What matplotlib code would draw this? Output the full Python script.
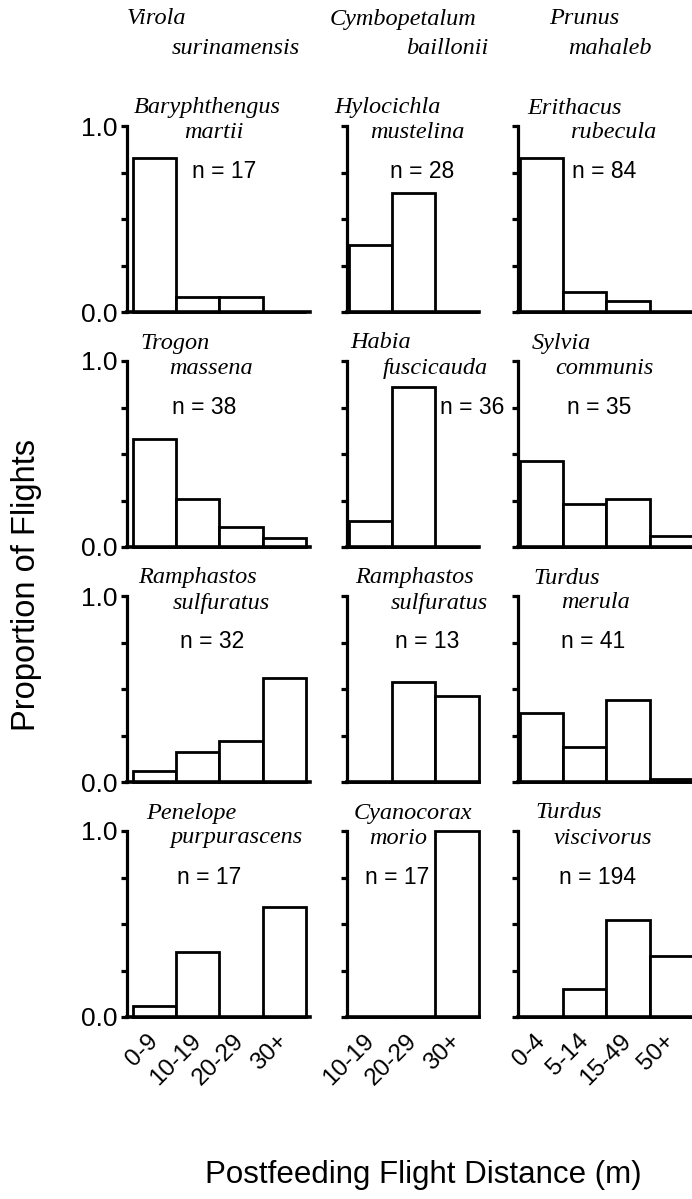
import numpy as np
import matplotlib
matplotlib.use('Agg')
import matplotlib.pyplot as plt
from matplotlib.transforms import ScaledTranslation

# --- data ---
col_bins = [['0-9', '10-19', '20-29', '30+'],
            ['10-19', '20-29', '30+'],
            ['0-4', '5-14', '15-49', '50+']]
plants = [('Virola', 'surinamensis'),
          ('Cymbopetalum', 'baillonii'),
          ('Prunus', 'mahaleb')]
birds = [[('Baryphthengus', 'martii'), ('Trogon', 'massena'),
          ('Ramphastos', 'sulfuratus'), ('Penelope', 'purpurascens')],
         [('Hylocichla', 'mustelina'), ('Habia', 'fuscicauda'),
          ('Ramphastos', 'sulfuratus'), ('Cyanocorax', 'morio')],
         [('Erithacus', 'rubecula'), ('Sylvia', 'communis'),
          ('Turdus', 'merula'), ('Turdus', 'viscivorus')]]
n_obs = [[17, 38, 32, 17],
         [28, 36, 13, 17],
         [84, 35, 41, 194]]
virola_props = [[0.83, 0.08, 0.08, 0.0],
                [0.58, 0.26, 0.11, 0.05],
                [0.06, 0.16, 0.22, 0.56],
                [0.06, 0.35, 0.0, 0.59]]
cymbopetalum_props = [[0.36, 0.64, 0.0],
                      [0.14, 0.86, 0.0],
                      [0.0, 0.54, 0.46],
                      [0.0, 0.0, 1.0]]
prunus_props = [[0.83, 0.11, 0.06, 0.0],
                [0.46, 0.23, 0.26, 0.06],
                [0.37, 0.19, 0.44, 0.015],
                [0.0, 0.15, 0.52, 0.33]]
props = [virola_props, cymbopetalum_props, prunus_props]

# --- layout (pixels) ---
W, H = 692, 1199
col_spine = [127, 347, 518]
col_bin0 = [133, 349, 520]
col_right = [310, 479, 692]
bin_w = 43.2
row_top = [126, 361, 596, 831]
row_bot = [312, 547, 782, 1017]
name1_x = [[134, 140, 138, 146], [334, 350, 355, 354], [527, 532, 533, 535]]
name2_x = [[184, 169, 173, 170], [370, 383, 391, 369], [570, 555, 561, 554]]
nlab_x = [[192, 172, 180, 177], [390, 440, 395, 365], [572, 567, 561, 559]]
head1_x = [127, 330, 549]
head2_x = [172, 406, 568]

sans = 'Liberation Sans'
serif = 'Liberation Serif'

fig = plt.figure(figsize=(W / 100, H / 100), dpi=100)


def fx(px):
    return px / W


def fy(py):
    return 1 - py / H


for c in range(3):
    fig.text(fx(head1_x[c]), fy(19), plants[c][0], family=serif, style='italic',
             fontsize=17.5, ha='left', va='center')
    fig.text(fx(head2_x[c]), fy(49), plants[c][1], family=serif, style='italic',
             fontsize=17.5, ha='left', va='center')
    nb = len(col_bins[c])
    for r in range(4):
        ax = fig.add_axes([fx(col_spine[c]), fy(row_bot[r]),
                           (col_right[c] - col_spine[c]) / W,
                           (row_bot[r] - row_top[r]) / H])
        x = np.arange(nb)
        ax.bar(x, props[c][r], width=1.0, facecolor='white', edgecolor='black',
               linewidth=2.0, clip_on=False)
        ax.set_xlim(-0.5 - (col_bin0[c] - col_spine[c]) / bin_w,
                    -0.5 + (col_right[c] - col_bin0[c]) / bin_w)
        ax.set_ylim(0, 1)
        for s in ['top', 'right']:
            ax.spines[s].set_visible(False)
        ax.spines['left'].set_linewidth(2.3)
        ax.spines['bottom'].set_linewidth(2.6)
        ax.set_yticks([0, 0.25, 0.5, 0.75, 1.0])
        ax.tick_params(axis='y', direction='out', length=4, width=2.3, pad=3)
        if c == 0:
            ax.set_yticklabels(['0.0', '', '', '', '1.0'], family=sans, fontsize=19)
        else:
            ax.set_yticklabels([])
        ax.tick_params(axis='x', length=0)
        if r == 3:
            ax.set_xticks(x)
            labs = ax.set_xticklabels(col_bins[c], rotation=45, ha='right',
                                      va='center', rotation_mode='anchor',
                                      family=sans, fontsize=17.5)
            for t in labs:
                t.set_transform(t.get_transform() +
                                ScaledTranslation(0.2, -0.04, fig.dpi_scale_trans))
            ax.tick_params(axis='x', pad=15)
        else:
            ax.set_xticks([])
        ax.patch.set_visible(False)

        top = row_top[r]
        fig.text(fx(name1_x[c][r]), fy(top - 18), birds[c][r][0], family=serif,
                 style='italic', fontsize=17.5, ha='left', va='center')
        fig.text(fx(name2_x[c][r]), fy(top + 7), birds[c][r][1], family=serif,
                 style='italic', fontsize=17.5, ha='left', va='center')
        fig.text(fx(nlab_x[c][r]), fy(top + 46), f'n = {n_obs[c][r]}', family=sans,
                 fontsize=16.5, ha='left', va='center')

fig.text(fx(423), fy(1175), 'Postfeeding Flight Distance (m)', family=sans,
         fontsize=22.5, ha='center', va='center')
fig.text(fx(27), fy(585), 'Proportion of Flights', family=sans, fontsize=23.5,
         rotation=90, ha='center', va='center')

fig.savefig('out.png', dpi=100)
plt.close()
